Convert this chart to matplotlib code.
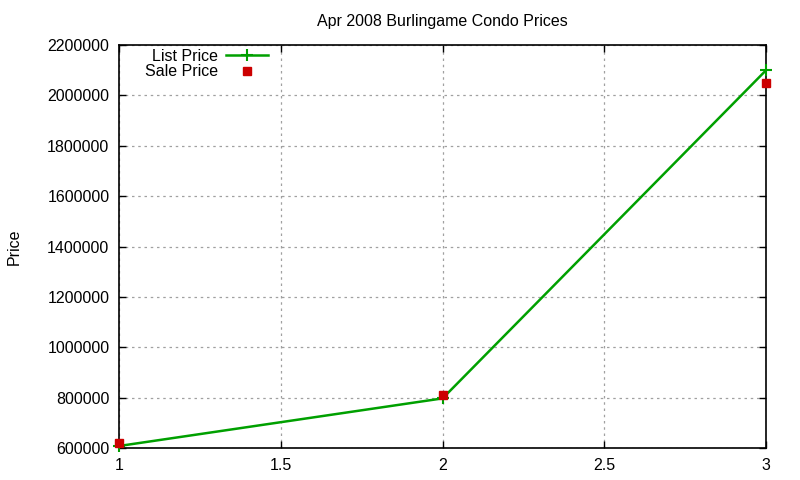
import matplotlib
matplotlib.use("Agg")
import matplotlib.pyplot as plt

plt.rcParams['font.family'] = ['Liberation Sans', 'DejaVu Sans']

# data
positions = [1, 2, 3]
list_price = [608000, 797000, 2100000]
sale_price = [620000, 810000, 2050000]

GREEN = "#00a000"
RED = "#cc0000"

fig = plt.figure(figsize=(8, 4.8), dpi=100)
ax = fig.add_axes([0.149, 0.0667, 0.8085, 0.8393])

ax.plot(positions, list_price, color=GREEN, lw=1.8, marker="+", ms=8, mew=1.5,
        label="List Price", clip_on=False, zorder=3)
ax.plot(positions, sale_price, ls="none", marker="s", ms=6, color=RED, mec=RED,
        label="Sale Price", clip_on=False, zorder=4)

ax.set_xlim(1, 3)
ax.set_ylim(600000, 2200000)
ax.set_xticks([1, 1.5, 2, 2.5, 3])
ax.set_xticklabels(["1", "1.5", "2", "2.5", "3"])
ax.set_yticks(range(600000, 2200001, 200000))
ax.set_yticklabels([str(v) for v in range(600000, 2200001, 200000)])

ax.grid(True, color="#a0a0a0", ls=(0, (2, 3)), lw=0.9)
ax.tick_params(direction="in", length=5, width=1, labelsize=11.5,
               top=True, right=True, pad=7)
for s in ax.spines.values():
    s.set_linewidth(1.2)

ax.set_title("Apr 2008 Burlingame Condo Prices", fontsize=11.5, pad=14)
ax.set_ylabel("Price", fontsize=11.5, labelpad=18)

leg = ax.legend(loc="upper left", bbox_to_anchor=(0.025, 1.015), frameon=False,
                markerfirst=False, fontsize=11.5, handlelength=2.6,
                handletextpad=0.5, labelspacing=0.05, borderaxespad=0.2)

fig.savefig("out.png", dpi=100)
